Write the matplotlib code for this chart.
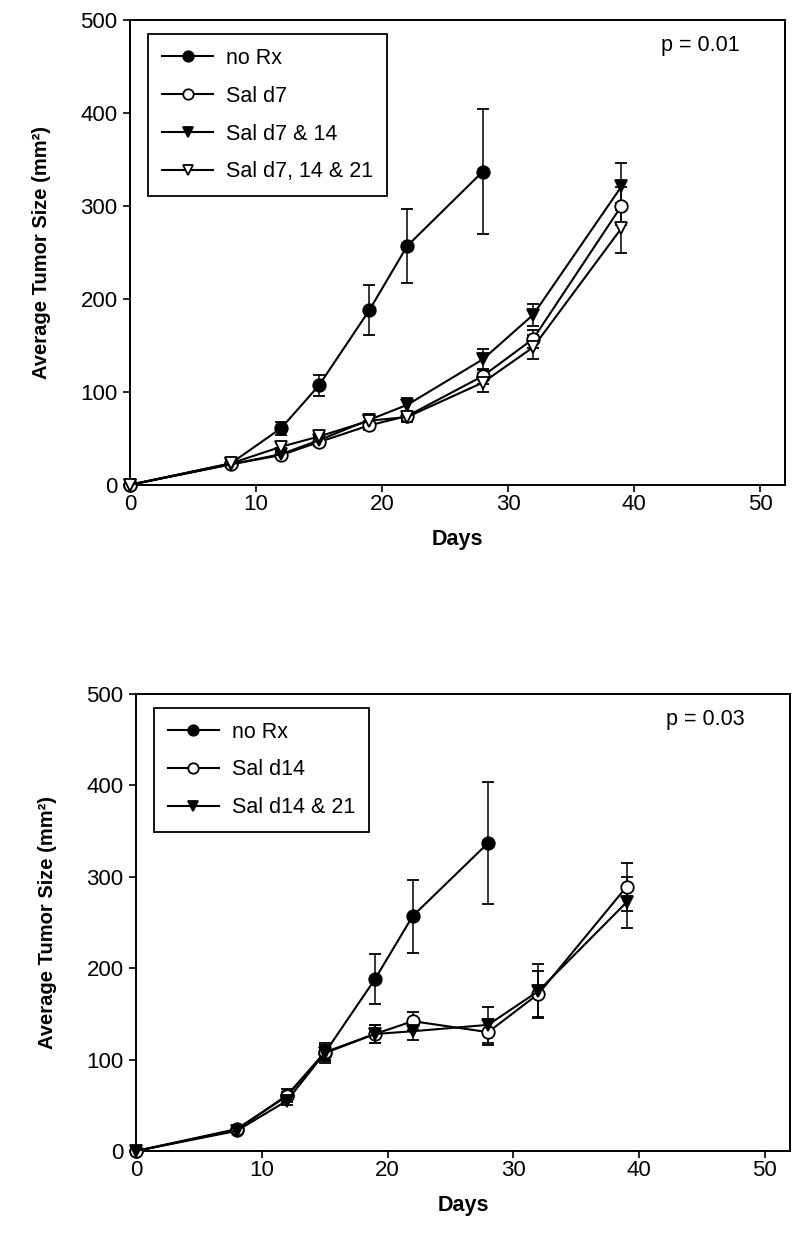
import numpy as np
import matplotlib
matplotlib.use("Agg")
import matplotlib.pyplot as plt

plt.rcParams['font.family'] = ['Liberation Sans', 'DejaVu Sans']

days = [0, 8, 12, 15, 19, 22, 28, 32, 39]
days_norx = [0, 8, 12, 15, 19, 22, 28]

# top panel
norx = [0, 23, 61, 107, 188, 257, 337]
norx_err = [0, 2, 7, 11, 27, 40, 67]
sal_d7 = [0, 22, 32, 46, 64, 74, 117, 157, 300]
sal_d7_err = [0, 2, 3, 4, 5, 5, 8, 10, 20]
sal_d7_14 = [0, 22, 33, 48, 70, 86, 135, 183, 321]
sal_d7_14_err = [0, 2, 3, 4, 5, 7, 11, 12, 25]
sal_d7_14_21 = [0, 23, 41, 52, 69, 73, 110, 148, 276]
sal_d7_14_21_err = [0, 2, 4, 5, 4, 5, 10, 13, 27]

# bottom panel
sal_d14 = [0, 24, 60, 108, 128, 142, 130, 172, 289]
sal_d14_err = [0, 2, 5, 8, 10, 10, 14, 25, 26]
sal_d14_21 = [0, 22, 55, 107, 128, 131, 138, 175, 272]
sal_d14_21_err = [0, 2, 5, 8, 10, 10, 20, 30, 28]

p_top = 'p = 0.01'
p_bottom = 'p = 0.03'

fig = plt.figure(figsize=(8, 12.56), dpi=100)
ax1 = fig.add_axes([0.1625, 0.614, 0.819, 0.37])
ax2 = fig.add_axes([0.17, 0.0836, 0.8175, 0.3639])


def draw(ax, series, ptxt):
    for x, y, e, mk, fc, lab in series:
        ax.errorbar(x, y, yerr=e, color='black', marker=mk, markersize=9,
                    markerfacecolor=fc, markeredgecolor='black', markeredgewidth=1.3,
                    linewidth=1.5, elinewidth=1.1, capsize=4, capthick=1.1,
                    label=lab, clip_on=False, zorder=3)
    ax.set_xlim(0, 52)
    ax.set_ylim(0, 500)
    ax.set_xticks([0, 10, 20, 30, 40, 50])
    ax.set_yticks([0, 100, 200, 300, 400, 500])
    ax.tick_params(direction='out', length=5, width=1.2, labelsize=16)
    ax.tick_params(axis='x', pad=1.5)
    ax.tick_params(axis='y', pad=4)
    for s in ax.spines.values():
        s.set_linewidth(1.4)
    ax.set_xlabel('Days', fontsize=15.5, fontweight='bold', labelpad=10)
    ax.set_ylabel('Average Tumor Size (mm²)', fontsize=14.5, fontweight='bold', labelpad=21)
    ax.text(0.87, 0.945, ptxt, transform=ax.transAxes, fontsize=15.5,
            ha='center', va='center')
    handles, labels = ax.get_legend_handles_labels()
    handles = [h[0] for h in handles]
    leg = ax.legend(handles, labels, loc='upper left', bbox_to_anchor=(0.027, 0.97),
                    borderaxespad=0, fontsize=15.5, handlelength=2.4, handletextpad=0.6,
                    labelspacing=0.78, borderpad=0.65, fancybox=False, framealpha=1,
                    edgecolor='black')
    leg.get_frame().set_linewidth(1.3)
    for h in leg.legend_handles:
        h.set_markersize(7.5)


draw(ax1, [
    (days_norx, norx, norx_err, 'o', 'black', 'no Rx'),
    (days, sal_d7, sal_d7_err, 'o', 'white', 'Sal d7'),
    (days, sal_d7_14, sal_d7_14_err, 'v', 'black', 'Sal d7 & 14'),
    (days, sal_d7_14_21, sal_d7_14_21_err, 'v', 'white', 'Sal d7, 14 & 21'),
], p_top)

draw(ax2, [
    (days_norx, norx, norx_err, 'o', 'black', 'no Rx'),
    (days, sal_d14, sal_d14_err, 'o', 'white', 'Sal d14'),
    (days, sal_d14_21, sal_d14_21_err, 'v', 'black', 'Sal d14 & 21'),
], p_bottom)

fig.savefig('out.png', dpi=100)
